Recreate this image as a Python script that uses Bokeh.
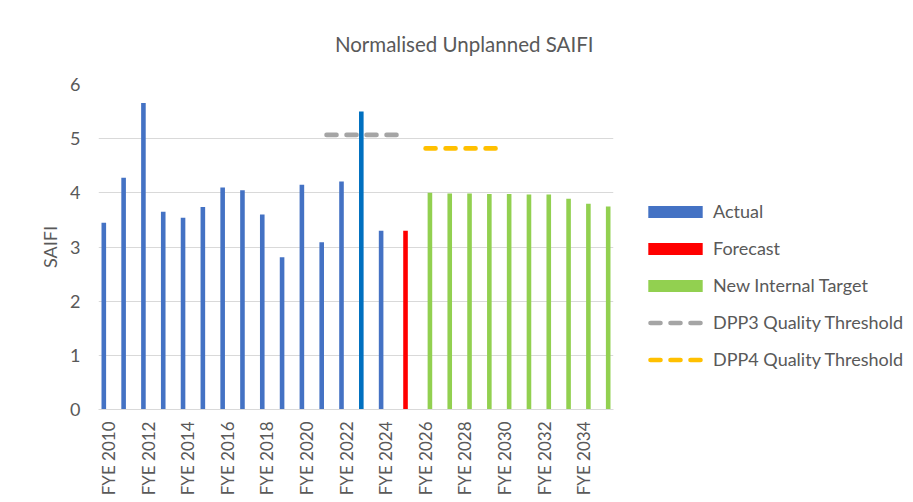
import math
from bokeh.plotting import figure
from bokeh.models import (ColumnDataSource, Legend, LegendItem, FactorRange,
                          CustomJSTickFormatter)
from bokeh.transform import dodge
from bokeh.embed import file_html
from bokeh.resources import INLINE

# ---- data ----
years = ["FYE 2010", "FYE 2011", "FYE 2012", "FYE 2013", "FYE 2014", "FYE 2015",
         "FYE 2016", "FYE 2017", "FYE 2018", "FYE 2019", "FYE 2020", "FYE 2021",
         "FYE 2022", "FYE 2023", "FYE 2024", "FYE 2025", "FYE 2026", "FYE 2027",
         "FYE 2028", "FYE 2029", "FYE 2030", "FYE 2031", "FYE 2032", "FYE 2033",
         "FYE 2034", "FYE 2035"]
shown_tick_labels = ["FYE 2010", "FYE 2012", "FYE 2014", "FYE 2016", "FYE 2018",
                     "FYE 2020", "FYE 2022", "FYE 2024", "FYE 2026", "FYE 2028",
                     "FYE 2030", "FYE 2032", "FYE 2034"]

actual_years = years[:15]
actual_values = [3.45, 4.28, 5.66, 3.65, 3.54, 3.74, 4.10, 4.05, 3.60, 2.81,
                 4.15, 3.09, 4.21, 5.50, 3.30]
actual_colors = ["#4472C4"] * 13 + ["#0070C0", "#4472C4"]

forecast_years = ["FYE 2025"]
forecast_values = [3.30]

target_years = years[16:]
target_values = [4.00, 3.99, 3.99, 3.98, 3.98, 3.97, 3.97, 3.89, 3.80, 3.75]

# threshold lines (listed latest-first)
dpp3_years = ["FYE 2025", "FYE 2024", "FYE 2023", "FYE 2022", "FYE 2021"]
dpp3_values = [5.07, 5.07, 5.07, 5.07, 5.07]
dpp4_years = ["FYE 2030", "FYE 2029", "FYE 2028", "FYE 2027", "FYE 2026"]
dpp4_values = [4.82, 4.82, 4.82, 4.82, 4.82]

FONT = "Lato"
TXT = "#595959"
GRID = "#D9D9D9"
DOD = 0.232

p = figure(frame_width=515, frame_height=325, x_range=FactorRange(*years),
           y_range=(0, 6), output_backend="svg", toolbar_location=None,
           min_border_left=98, min_border_right=0, min_border_top=84,
           min_border_bottom=77)
p.outline_line_color = None
p.background_fill_color = "white"

src_a = ColumnDataSource(dict(x=actual_years, y=actual_values, c=actual_colors))
src_f = ColumnDataSource(dict(x=forecast_years, y=forecast_values))
src_t = ColumnDataSource(dict(x=target_years, y=target_values))
src_3 = ColumnDataSource(dict(x=dpp3_years, y=dpp3_values))
src_4 = ColumnDataSource(dict(x=dpp4_years, y=dpp4_values))

r_a = p.vbar(x=dodge("x", -DOD, range=p.x_range), top="y", width=DOD, source=src_a,
             fill_color="c", line_color=None)
r_f = p.vbar(x=dodge("x", 0, range=p.x_range), top="y", width=DOD, source=src_f,
             fill_color="#FF0000", line_color=None)
r_t = p.vbar(x=dodge("x", DOD, range=p.x_range), top="y", width=DOD, source=src_t,
             fill_color="#92D050", line_color=None)
r_3 = p.line(x="x", y="y", source=src_3, line_color="#A5A5A5", line_width=4.6,
             line_dash="10 10", line_dash_offset=11, line_cap="round")
r_4 = p.line(x="x", y="y", source=src_4, line_color="#FFC000", line_width=4.6,
             line_dash="10 10", line_dash_offset=11, line_cap="round")

# axes
p.xgrid.grid_line_color = None
p.ygrid.grid_line_color = GRID
p.ygrid.grid_line_width = 1
p.yaxis.ticker = [0, 1, 2, 3, 4, 5, 6]
p.yaxis.axis_line_color = None
p.yaxis.major_tick_line_color = None
p.yaxis.minor_tick_line_color = None
p.yaxis.major_tick_out = 0
p.yaxis.major_tick_in = 0
p.yaxis.minor_tick_out = 0
p.yaxis.major_label_text_font = FONT
p.yaxis.major_label_text_font_size = "18px"
p.yaxis.major_label_text_color = TXT
p.yaxis.major_label_standoff = 18
p.yaxis.axis_label = "SAIFI"
p.yaxis.axis_label_text_font = FONT
p.yaxis.axis_label_text_font_size = "18px"
p.yaxis.axis_label_text_font_style = "normal"
p.yaxis.axis_label_text_color = TXT
p.yaxis.axis_label_standoff = 6

p.xaxis.axis_line_color = GRID
p.xaxis.axis_line_width = 1
p.xaxis.major_tick_line_color = None
p.xaxis.minor_tick_line_color = None
p.xaxis.major_tick_out = 0
p.xaxis.major_tick_in = 0
p.xaxis.major_label_text_font = FONT
p.xaxis.major_label_text_font_size = "17px"
p.xaxis.major_label_text_color = TXT
p.xaxis.major_label_orientation = math.pi / 2
p.xaxis.major_label_standoff = 12
p.xaxis.formatter = CustomJSTickFormatter(
    args=dict(shown=shown_tick_labels),
    code="return shown.includes(tick) ? tick : '';")

# title
p.title.text = "Normalised Unplanned SAIFI"
p.title.text_font = FONT
p.title.text_font_size = "20.5px"
p.title.text_font_style = "normal"
p.title.text_color = TXT
p.title.align = "right"
p.title.offset = 20
p.title.standoff = 57

legend = Legend(items=[
    LegendItem(label="Actual", renderers=[r_a]),
    LegendItem(label="Forecast", renderers=[r_f]),
    LegendItem(label="New Internal Target", renderers=[r_t]),
    LegendItem(label="DPP3 Quality Threshold", renderers=[r_3]),
    LegendItem(label="DPP4 Quality Threshold", renderers=[r_4]),
], location=(28, 39))
legend.border_line_color = None
legend.background_fill_alpha = 0
legend.padding = 0
legend.margin = 0
legend.glyph_width = 68
legend.glyph_height = 15
legend.label_standoff = 4
legend.label_height = 15
legend.spacing = 15
legend.label_text_font = FONT
legend.label_text_font_size = "18px"
legend.label_text_color = TXT
p.add_layout(legend, "right")

open("out.html", "w").write(file_html(p, INLINE))
